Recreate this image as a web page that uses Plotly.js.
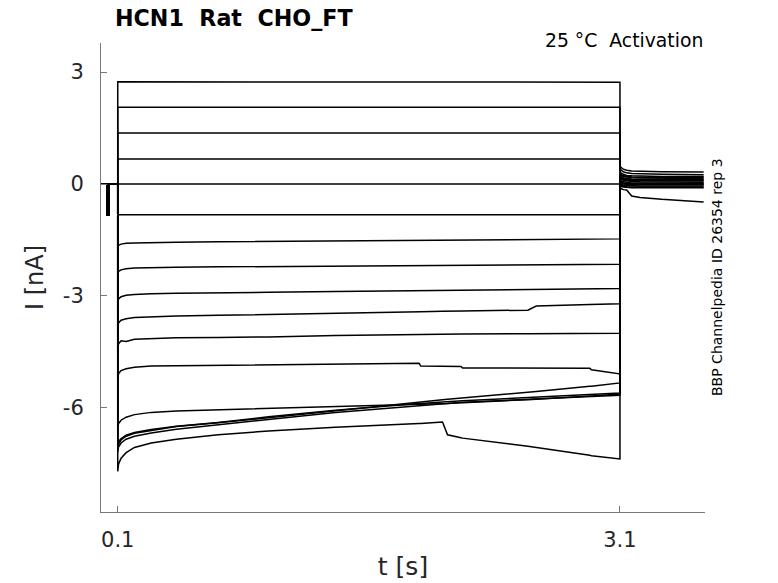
<!DOCTYPE html>
<html>
<head>
<meta charset="utf-8">
<script src="https://cdn.plot.ly/plotly-3.0.1.min.js"></script>
<style>
    body { margin: 0; background: white; }
    #chart { width: 778px; height: 583px; }
</style>
</head>
<body>
<div id="chart"></div>
<script>
// holding + test pulse before the step (same for every sweep)
let tPre = [0, 0.037, 0.037, 0.046, 0.046, 0.1]
let iPre = [0, 0, -0.83, -0.83, 0, 0]

// activation step, 0.1 s to 3.1 s
let tStep = [0.1, 0.105, 0.12, 0.15, 0.2, 0.3, 0.45, 0.7, 1.0, 1.4, 1.9, 1.91, 2.04, 2.07, 2.15, 2.16, 2.55, 2.6, 2.92, 2.93, 3.1]
let step1 = [2.74, 2.74, 2.73, 2.73, 2.73, 2.73, 2.73, 2.73, 2.73, 2.73, 2.73, 2.73, 2.73, 2.73, 2.73, 2.73, 2.73, 2.73, 2.73, 2.73, 2.73]
let step2 = [2.06, 2.06, 2.06, 2.06, 2.06, 2.06, 2.06, 2.06, 2.06, 2.06, 2.06, 2.06, 2.06, 2.06, 2.06, 2.06, 2.06, 2.06, 2.06, 2.06, 2.06]
let step3 = [1.37, 1.37, 1.37, 1.37, 1.37, 1.37, 1.37, 1.37, 1.37, 1.37, 1.37, 1.37, 1.37, 1.37, 1.37, 1.37, 1.37, 1.37, 1.37, 1.37, 1.37]
let step4 = [0.67, 0.67, 0.67, 0.67, 0.67, 0.67, 0.67, 0.67, 0.67, 0.67, 0.67, 0.67, 0.67, 0.67, 0.67, 0.67, 0.67, 0.67, 0.67, 0.67, 0.67]
let step5 = [0, 0, 0, 0, 0, 0, 0, 0, 0, 0, 0, 0, 0, 0, 0, 0, 0, 0, 0, 0, 0]
let step6 = [-0.82, -0.82, -0.82, -0.82, -0.82, -0.82, -0.82, -0.82, -0.82, -0.82, -0.82, -0.82, -0.82, -0.82, -0.82, -0.82, -0.82, -0.82, -0.82, -0.82, -0.82]
let step7 = [-1.68, -1.64, -1.61, -1.59, -1.58, -1.57, -1.56, -1.55, -1.54, -1.53, -1.51, -1.51, -1.5, -1.5, -1.5, -1.5, -1.49, -1.49, -1.48, -1.48, -1.47]
let step8 = [-2.4, -2.34, -2.3, -2.27, -2.25, -2.24, -2.23, -2.22, -2.21, -2.2, -2.19, -2.19, -2.18, -2.18, -2.18, -2.18, -2.17, -2.17, -2.16, -2.16, -2.15]
let step9 = [-3.18, -3.08, -3.02, -2.98, -2.96, -2.94, -2.93, -2.91, -2.9, -2.88, -2.86, -2.86, -2.85, -2.85, -2.84, -2.84, -2.83, -2.83, -2.81, -2.81, -2.8]
let step10 = [-3.85, -3.72, -3.65, -3.61, -3.58, -3.56, -3.54, -3.52, -3.5, -3.46, -3.42, -3.42, -3.41, -3.41, -3.4, -3.4, -3.38, -3.27, -3.23, -3.23, -3.21]
let step11 = [-4.38, -4.28, -4.2, -4.22, -4.16, -4.14, -4.12, -4.11, -4.1, -4.06, -4.03, -4.03, -4.02, -4.02, -4.02, -4.02, -4.01, -4.01, -4.0, -4.0, -4.0]
let step12 = [-5.22, -5.08, -5.0, -4.95, -4.91, -4.88, -4.87, -4.86, -4.85, -4.82, -4.8, -4.88, -4.88, -4.88, -4.89, -4.93, -4.93, -4.93, -4.94, -4.98, -5.09]
let step13 = [-6.5, -6.42, -6.33, -6.25, -6.18, -6.12, -6.08, -6.05, -6.02, -5.97, -5.9, -5.9, -5.88, -5.88, -5.86, -5.86, -5.78, -5.77, -5.68, -5.68, -5.63]
let step14 = [-7.1, -6.97, -6.86, -6.76, -6.68, -6.6, -6.5, -6.4, -6.26, -6.06, -5.84, -5.84, -5.78, -5.77, -5.74, -5.73, -5.58, -5.56, -5.42, -5.42, -5.33]
let step15 = [-7.02, -6.9, -6.82, -6.73, -6.66, -6.58, -6.49, -6.39, -6.24, -6.06, -5.88, -5.88, -5.84, -5.83, -5.81, -5.81, -5.72, -5.71, -5.64, -5.64, -5.6]
let step16 = [-7.18, -7.04, -6.94, -6.84, -6.76, -6.67, -6.57, -6.46, -6.31, -6.12, -5.93, -5.93, -5.88, -5.87, -5.85, -5.85, -5.77, -5.76, -5.69, -5.69, -5.66]
let step17 = [-7.7, -7.5, -7.35, -7.2, -7.06, -6.94, -6.84, -6.72, -6.62, -6.52, -6.42, -6.42, -6.38, -6.72, -6.8, -6.81, -7.03, -7.06, -7.27, -7.28, -7.37]

// tail after the step
let tTail = [3.1, 3.105, 3.12, 3.14, 3.17, 3.22, 3.35, 3.6]
let tail1 = [0.5, 0.45, 0.4, 0.37, 0.35, 0.34, 0.33, 0.32]
let tail2 = [0.42, 0.38, 0.33, 0.3, 0.28, 0.27, 0.26, 0.25]
let tail3 = [0.35, 0.3, 0.26, 0.23, 0.22, 0.21, 0.2, 0.2]
let tail4 = [0.3, 0.25, 0.2, 0.18, 0.17, 0.16, 0.15, 0.15]
let tail5 = [0.25, 0.2, 0.15, 0.13, 0.12, 0.11, 0.1, 0.1]
let tail6 = [0.2, 0.15, 0.1, 0.08, 0.07, 0.06, 0.05, 0.05]
let tail7 = [0.15, 0.1, 0.06, 0.04, 0.03, 0.03, 0.02, 0.02]
let tail8 = [0.1, 0.06, 0.03, 0.01, 0.01, 0, 0, 0]
let tail9 = [0.05, 0.02, 0, -0.01, -0.02, -0.02, -0.02, -0.02]
let tail10 = [0.2, 0.16, 0.12, 0.1, 0.09, 0.09, 0.08, 0.08]
let tail11 = [0.25, 0.2, 0.16, 0.14, 0.13, 0.12, 0.12, 0.12]
let tail12 = [0.3, 0.26, 0.22, 0.2, 0.19, 0.18, 0.18, 0.18]
let tail13 = [0.05, 0, -0.03, -0.04, -0.05, -0.05, -0.05, -0.05]
let tail14 = [0, -0.04, -0.06, -0.07, -0.08, -0.08, -0.08, -0.08]
let tail15 = [-0.02, -0.06, -0.08, -0.09, -0.1, -0.1, -0.1, -0.1]
let tail16 = [0.1, 0.05, 0.02, 0.01, 0, 0, 0, 0]
let tail17 = [-0.1, -0.12, -0.15, -0.16, -0.32, -0.36, -0.41, -0.48]

let steps = [step1, step2, step3, step4, step5, step6, step7, step8, step9, step10, step11, step12, step13, step14, step15, step16, step17]
let tails = [tail1, tail2, tail3, tail4, tail5, tail6, tail7, tail8, tail9, tail10, tail11, tail12, tail13, tail14, tail15, tail16, tail17]

let xTicks = [0.1, 3.1]
let xTickText = ["0.1", "3.1"]
let yTicks = [3, 0, -3, -6]
let yTickText = ["3", "0", "-3", "-6"]

let data = []
for (let k = 0; k < steps.length; k++) {
    data.push({
        x: tPre.concat(tStep, tTail),
        y: iPre.concat(steps[k], tails[k]),
        mode: 'lines',
        type: 'scatter',
        line: { color: 'black', width: 1.5 },
        hoverinfo: 'skip',
        showlegend: false
    })
}

let font = "DejaVu Sans, sans-serif"

let layout = {
    width: 778,
    height: 583,
    margin: { l: 101, r: 73, t: 43, b: 71 },
    paper_bgcolor: 'white',
    plot_bgcolor: 'white',
    font: { family: font, color: '#262626' },
    title: {
        text: "<b>HCN1  Rat  CHO_FT</b>",
        font: { family: font, size: 22.2, color: 'black' },
        x: (115 - 101) / 604,
        xanchor: 'left',
        xref: 'paper',
        y: 1 - 18 / 583,
        yanchor: 'middle'
    },
    xaxis: {
        range: [0, 3.608],
        tickvals: xTicks,
        ticktext: xTickText,
        ticks: 'inside',
        ticklen: 6,
        tickcolor: '#777777',
        showline: true,
        linecolor: '#777777',
        linewidth: 1,
        showgrid: false,
        zeroline: false,
        tickfont: { size: 21, color: '#262626' },
        ticklabelstandoff: 9,
        title: { text: "t [s]", font: { size: 25, color: '#262626' }, standoff: 6 }
    },
    yaxis: {
        range: [-8.79, 3.78],
        tickvals: yTicks,
        ticktext: yTickText,
        ticks: 'inside',
        ticklen: 6,
        tickcolor: '#777777',
        showline: true,
        linecolor: '#777777',
        linewidth: 1,
        showgrid: false,
        zeroline: false,
        tickfont: { size: 21, color: '#262626' },
        ticklabelstandoff: 12,
        title: { text: "I [nA]", font: { size: 24, color: '#262626' }, standoff: 12 }
    },
    annotations: [
        {
            text: "25 °C  Activation",
            xref: 'paper', yref: 'paper',
            x: 1, y: 1.006,
            xanchor: 'right', yanchor: 'middle',
            showarrow: false,
            font: { family: font, size: 18.8, color: 'black' }
        },
        {
            text: "BBP Channelpedia ID 26354 rep 3",
            xref: 'paper', yref: 'paper',
            x: (717 - 101) / 604, y: (512 - 277) / 469,
            xanchor: 'center', yanchor: 'middle',
            textangle: -90,
            showarrow: false,
            font: { family: font, size: 14, color: 'black' }
        }
    ]
}

Plotly.newPlot("chart", data, layout, { displayModeBar: false, staticPlot: true })
</script>
</body>
</html>
